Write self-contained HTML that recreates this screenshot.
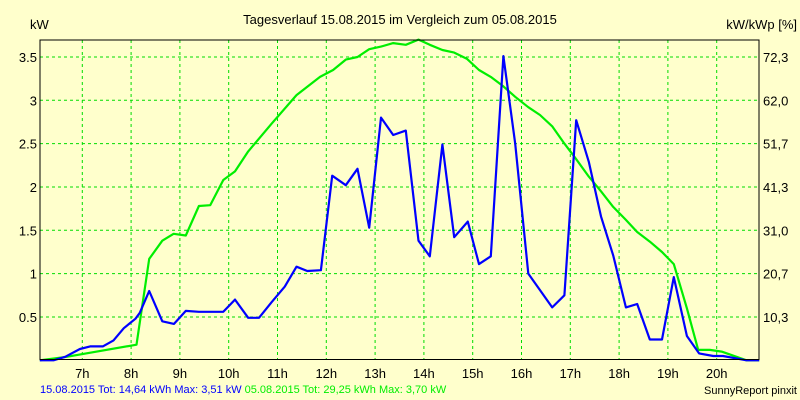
<!DOCTYPE html>
<html><head><meta charset="utf-8"><style>
html,body{margin:0;padding:0;background:#ffffcc;width:800px;height:400px;overflow:hidden;}
svg{display:block;}
svg text{font-family:"Liberation Sans",sans-serif;}
</style></head><body>
<svg id="c" width="800" height="400" xmlns="http://www.w3.org/2000/svg">
<rect x="0" y="0" width="800" height="400" fill="#ffffcc"/>
<text x="400" y="24" font-size="13" text-anchor="middle">Tagesverlauf 15.08.2015 im Vergleich zum 05.08.2015</text>
<text x="30" y="29" font-size="13">kW</text>
<text x="797" y="29" font-size="13" text-anchor="end">kW/kWp [%]</text>
<g id="grid"></g><g id="ticks"></g><g id="series"></g>
<rect x="40" y="40" width="719" height="319.5" fill="none" stroke="#000" stroke-width="1"/>
<text x="40" y="393" font-size="11"><tspan fill="#0000ff">15.08.2015 Tot: 14,64 kWh Max: 3,51 kW</tspan><tspan fill="#00ee00"> 05.08.2015 Tot: 29,25 kWh Max: 3,70 kW</tspan></text>
<text x="797" y="394" font-size="11" text-anchor="end">SunnyReport pinxit</text>
</svg>
<script>
const hourTicks=[7,8,9,10,11,12,13,14,15,16,17,18,19,20];
const yTicks=[0.5,1,1.5,2,2.5,3,3.5];
const yRightLabels=["10,3","20,7","31,0","41,3","51,7","62,0","72,3"];
const blueT=[6.13,6.41,6.65,6.95,7.16,7.42,7.64,7.85,8.09,8.18,8.37,8.64,8.88,9.12,9.39,9.89,10.13,10.40,10.62,10.88,11.15,11.39,11.61,11.89,12.12,12.40,12.64,12.88,13.12,13.37,13.63,13.89,14.12,14.38,14.62,14.90,15.13,15.37,15.63,15.87,16.14,16.38,16.63,16.88,17.12,17.38,17.63,17.88,18.14,18.37,18.63,18.88,19.12,19.39,19.64,19.93,20.13,20.61,20.87];
const blueV=[0,0,0.04,0.13,0.16,0.16,0.23,0.37,0.48,0.55,0.80,0.45,0.42,0.57,0.56,0.56,0.70,0.49,0.49,0.67,0.85,1.08,1.03,1.04,2.13,2.02,2.21,1.53,2.80,2.60,2.65,1.38,1.20,2.49,1.42,1.60,1.11,1.20,3.51,2.50,1.00,0.81,0.61,0.75,2.77,2.29,1.66,1.21,0.61,0.65,0.24,0.24,0.96,0.28,0.08,0.05,0.05,0,0];
const greenT=[6.13,6.68,8.11,8.37,8.64,8.87,9.12,9.39,9.62,9.89,10.13,10.40,10.88,11.39,11.87,12.14,12.40,12.64,12.88,13.12,13.37,13.63,13.89,14.12,14.38,14.62,14.88,15.13,15.37,15.63,15.87,16.14,16.38,16.63,16.88,17.12,17.38,17.63,17.88,18.14,18.37,18.63,18.88,19.12,19.39,19.62,19.86,20.10,20.61,20.87];
const greenV=[0,0.04,0.18,1.17,1.38,1.46,1.44,1.78,1.79,2.08,2.18,2.41,2.73,3.06,3.27,3.35,3.47,3.50,3.59,3.62,3.66,3.64,3.70,3.64,3.58,3.55,3.48,3.35,3.27,3.16,3.04,2.92,2.83,2.70,2.50,2.32,2.12,1.95,1.77,1.62,1.48,1.37,1.25,1.11,0.60,0.12,0.12,0.10,0,0];
const NS="http://www.w3.org/2000/svg";
function X(t){return 82.3+(t-7)*48.8;}
function Y(v){return 360.3-v*86.67;}
function mk(tag,attrs,parent){const e=document.createElementNS(NS,tag);for(const k in attrs)e.setAttribute(k,attrs[k]);document.getElementById(parent).appendChild(e);return e;}
hourTicks.forEach(h=>{
  const l=mk('line',{x1:X(h),x2:X(h),y1:40,y2:359,stroke:'#00dd00','stroke-dasharray':'3,3'},'grid');
  
  
  const t=mk('text',{x:X(h),y:378,'font-size':13,'text-anchor':'middle'},'ticks');
  t.textContent=h+'h';
  
  
});
yTicks.forEach((v,i)=>{
  const l=mk('line',{x1:40,x2:759,y1:Y(v),y2:Y(v),stroke:'#00dd00','stroke-dasharray':'3,3'},'grid');
  
  
  const t=mk('text',{x:37,y:Y(v)+5,'font-size':13,'text-anchor':'end'},'ticks');
  t.textContent=String(v);
  
  
  const r=mk('text',{x:763,y:Y(v)+5,'font-size':13},'ticks');
  r.textContent=yRightLabels[i];
  
  
});
function line(ts,vs,color,name){
  const p=mk('polyline',{points:ts.map((t,i)=>X(t).toFixed(1)+','+Y(vs[i]).toFixed(1)).join(' '),fill:'none',stroke:color,'stroke-width':2.2,'stroke-linejoin':'round'},'series');
  
  
}
line(greenT,greenV,'#00ee00','series-05-08-2015');
line(blueT,blueV,'#0000ff','series-15-08-2015');
</script>
</body></html>
